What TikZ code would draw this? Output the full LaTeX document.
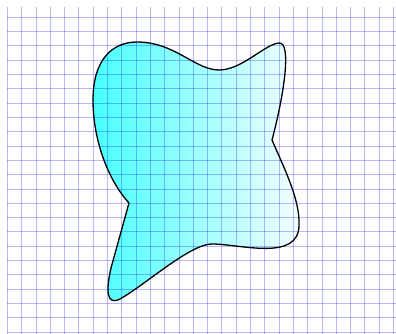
\documentclass[tikz,border=0pt]{standalone}
\usepackage{tikz}
\usetikzlibrary{calc}

\begin{document}
\begin{tikzpicture}[x=1pt,y=-1pt,
    gridline/.style={blue, line width=0.8pt, opacity=0.28},
    blobline/.style={black, line width=1.3pt, line join=round},
    blobfill/.style={left color=cyan!72, right color=cyan!4}]
    \useasboundingbox (0,0) rectangle (396,334);

    % Forme remplie
    \path[blobfill] (129,203) .. controls (108,180) and (93,140) .. (93,100)
        .. controls (93,60) and (112,42) .. (137,42)
        .. controls (175,42) and (195,70) .. (219,70)
        .. controls (242,70) and (265,44) .. (279,43)
        .. controls (292,42) and (284,95) .. (272,140)
        .. controls (285,170) and (300,200) .. (299,225)
        .. controls (299,262) and (240,244) .. (212,244)
        .. controls (190,244) and (145,285) .. (120,299)
        .. controls (106,306) and (106,290) .. (111,268)
        -- cycle;

    % Quadrillage
    \foreach \k in {0,...,27}
        \draw[gridline] (7.3+14.3*\k,7.3) -- (7.3+14.3*\k,334);
    \foreach \k in {0,...,22}
        \draw[gridline] (7.3,17.3+14.3*\k) -- (396,17.3+14.3*\k);

    % Contour
    \draw[blobline] (129,203) .. controls (108,180) and (93,140) .. (93,100)
        .. controls (93,60) and (112,42) .. (137,42)
        .. controls (175,42) and (195,70) .. (219,70)
        .. controls (242,70) and (265,44) .. (279,43)
        .. controls (292,42) and (284,95) .. (272,140)
        .. controls (285,170) and (300,200) .. (299,225)
        .. controls (299,262) and (240,244) .. (212,244)
        .. controls (190,244) and (145,285) .. (120,299)
        .. controls (106,306) and (106,290) .. (111,268)
        -- cycle;
\end{tikzpicture}
\end{document}
